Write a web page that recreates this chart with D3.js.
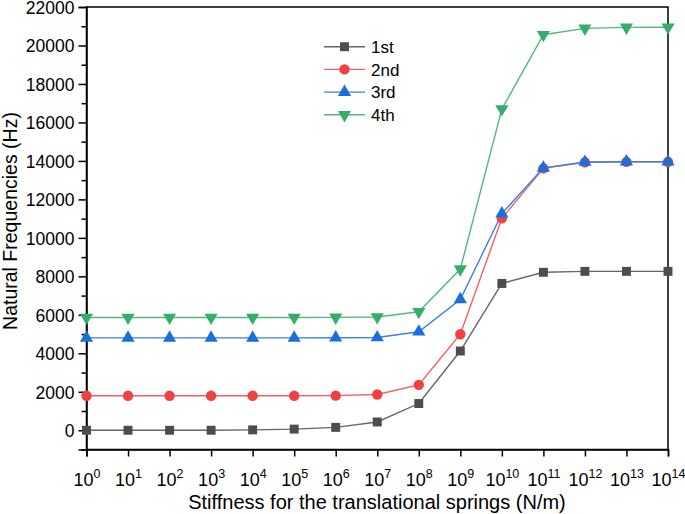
<!DOCTYPE html>
<html><head><meta charset="utf-8">
<script src="https://cdn.jsdelivr.net/npm/d3@7"></script>
<style>
body{margin:0;background:#fff;}
text{font-family:"Liberation Sans",Arial,sans-serif;fill:#000;}
</style></head>
<body><svg id="c" width="685" height="514"></svg>
<script>
const exponents = [0,1,2,3,4,5,6,7,8,9,10,11,12,13,14];
const seriesNames = ["1st","2nd","3rd","4th"];
const first  = [0,0,0,0,20,60,150,430,1390,4120,7630,8210,8260,8260,8260];
const second = [1790,1790,1790,1790,1790,1790,1800,1860,2360,4990,11020,13610,13930,13950,13950];
const third  = [4800,4800,4800,4800,4800,4800,4810,4820,5120,6800,11260,13640,13940,13960,13960];
const fourth = [5860,5860,5860,5860,5860,5860,5870,5890,6160,8380,16700,20560,20890,20940,20950];
const yTicks = [0,2000,4000,6000,8000,10000,12000,14000,16000,18000,20000,22000];
const colors = ["#4d4d4d","#f14040","#1a6fdf","#37ad6b"];
const lineColors = ["#666666","#f46060","#3a80e6","#52b97e"];
const symbols = [d3.symbolSquare, d3.symbolCircle, d3.symbolTriangle, d3.symbolTriangle];
const symSizes = [80, 85, 75, 75];
const data = [first, second, third, fourth];

const svg = d3.select("#c");
const L = 86.5, R = 668, T = 7, B = 449.5;
const x = d3.scaleLog().domain([1, 1e14]).range([L, R]);
const y = d3.scaleLinear().domain([-1000, 22000]).range([B, T]);

// frame
svg.append("rect").attr("x",L).attr("y",T).attr("width",R-L).attr("height",B-T)
  .attr("fill","none").attr("stroke","#000").attr("stroke-width",1.5);

// y axis
const yAxis = d3.axisLeft(y).tickValues(yTicks).tickSize(8).tickFormat(d3.format("d"));
const ga = svg.append("g").attr("transform",`translate(${L},0)`).call(yAxis);
ga.select(".domain").attr("stroke-width",1.5);
ga.selectAll(".tick line").attr("stroke-width",1.5);
ga.selectAll("text").style("font-size","17.5px").attr("x",-12).attr("dy","0.36em");
const yMinor = d3.axisLeft(y).tickValues(d3.range(-1000,22000,2000)).tickSize(5).tickFormat("");
const gm = svg.append("g").attr("transform",`translate(${L},0)`).call(yMinor);
gm.select(".domain").remove();
gm.selectAll(".tick line").attr("stroke-width",1.5);

// x axis
const xAxis = d3.axisBottom(x).tickValues(exponents.map(e=>Math.pow(10,e))).tickSize(7).tickFormat("");
const gx = svg.append("g").attr("transform",`translate(0,${B})`).call(xAxis);
gx.select(".domain").attr("stroke-width",1.5);
gx.selectAll(".tick line").attr("stroke-width",1.5);
gx.selectAll(".tick").each(function(d,i){
  const t = d3.select(this).append("text").attr("y",36).attr("text-anchor","middle")
    .style("font-size","18px").attr("fill","#000");
  t.append("tspan").text("10");
  t.append("tspan").attr("dy","-8").style("font-size","12.5px").text(exponents[i]);
});

// titles
svg.append("text").attr("x",377).attr("y",509).attr("text-anchor","middle")
  .style("font-size","20px").text("Stiffness for the translational springs (N/m)");
svg.append("text").attr("transform",`translate(16.5,221) rotate(-90)`).attr("text-anchor","middle")
  .style("font-size","19.5px").text("Natural Frequencies (Hz)");

// series
const line = d3.line().x((d,i)=>x(Math.pow(10,exponents[i]))).y(d=>y(d));
data.forEach((s,k)=>{
  svg.append("path").datum(s).attr("d",line).attr("fill","none")
    .attr("stroke",lineColors[k]).attr("stroke-width",1.4);
});
data.forEach((s,k)=>{
  svg.append("g").selectAll("path").data(s).enter().append("path")
    .attr("d",d3.symbol().type(symbols[k]).size(symSizes[k]))
    .attr("transform",(d,i)=>`translate(${x(Math.pow(10,exponents[i]))},${y(d)})${k===3?" rotate(180)":""}`)
    .attr("fill",colors[k]);
});

// legend
const lg = svg.append("g");
seriesNames.forEach((n,k)=>{
  const yy = 46.7 + k*22.7;
  lg.append("line").attr("x1",324).attr("x2",365).attr("y1",yy).attr("y2",yy)
    .attr("stroke",lineColors[k]).attr("stroke-width",1.4);
  lg.append("path").attr("d",d3.symbol().type(symbols[k]).size(symSizes[k]))
    .attr("transform",`translate(344.5,${yy})${k===3?" rotate(180)":""}`).attr("fill",colors[k]);
  lg.append("text").attr("x",371).attr("y",yy).attr("dy","0.36em").style("font-size","17px").text(n);
});
</script></body></html>
